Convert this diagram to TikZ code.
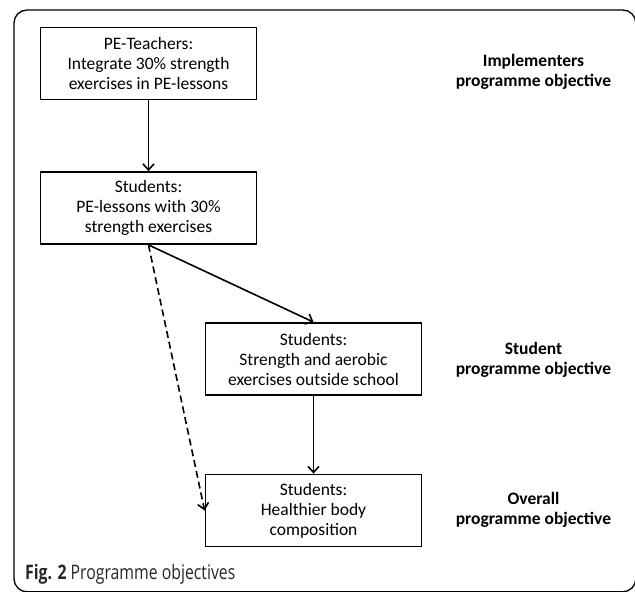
\documentclass[tikz,border=0pt]{standalone}
\usepackage{fontspec}
\setmainfont{Carlito}
\newfontfamily\capfont{Open Sans}
\usetikzlibrary{arrows.meta}
\begin{document}
\begin{tikzpicture}[x=1pt,y=-1pt,
  box/.style={draw, line width=1.8pt, minimum width=216pt, minimum height=72pt, align=center,
    font=\fontsize{17.5}{20}\selectfont, inner sep=0pt},
  lab/.style={align=center, font=\fontsize{17.5}{20.5}\selectfont\bfseries},
  arr/.style={line width=1.6pt, -{Straight Barb[length=6pt,width=11pt]}},
  frame/.style={line width=1.3pt, rounded corners=13pt}
]
\useasboundingbox (0,0) rectangle (635,592);
\draw[frame] (14,10) rectangle (635.8,591.8);
\node[box] (a) at (148.5,63.5) {PE-Teachers:\\Integrate 30\% strength\\exercises in PE-lessons};
\node[box] (b) at (148.5,208) {Students:\\PE-lessons with 30\%\\strength exercises};
\node[box] (c) at (313.5,359) {Students:\\Strength and aerobic\\exercises outside school};
\node[box] (d) at (313.5,510.5) {Students:\\Healthier body\\composition};
\node[lab] (la) at (533.5,72) {Implementers\\programme objective};
\node[lab] (lc) at (533.5,360) {Student\\programme objective};
\node[lab] (ld) at (533.5,510) {Overall\\programme objective};
\node[anchor=west, inner sep=0pt, font=\capfont\fontsize{20}{22}\selectfont, text=black!85] (cap) at (25,574)
  {\scalebox{0.79}[1]{\textbf{Fig. 2} Programme objectives}};
\draw[arr] (a.south) -- (b.north);
\draw[arr] (b.south) -- (c.north);
\draw[arr, dash pattern=on 7pt off 4pt] (b.south) -- (d.west);
\draw[arr] (c.south) -- (d.north);
\end{tikzpicture}
\end{document}
